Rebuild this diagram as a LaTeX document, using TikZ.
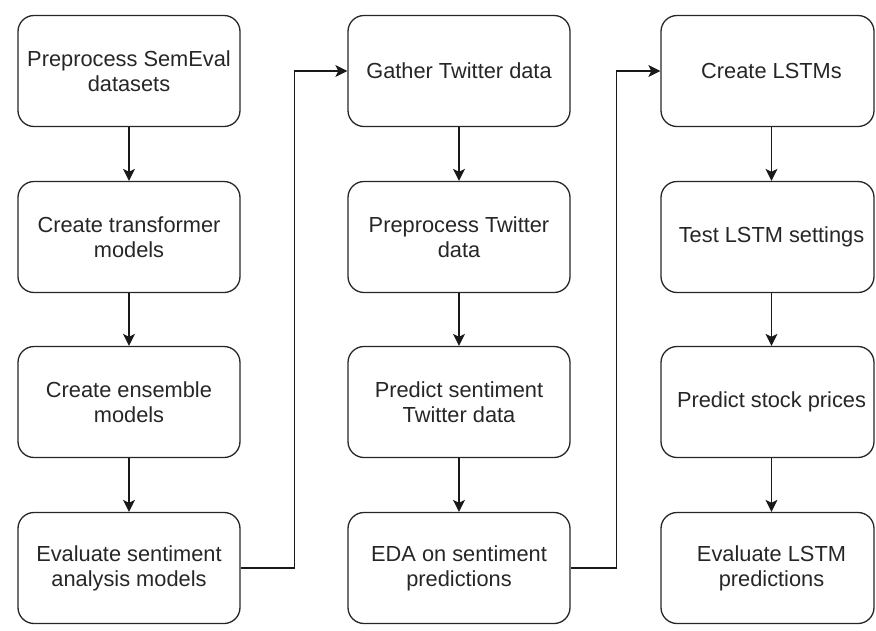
\documentclass[tikz,border=0pt]{standalone}
\usepackage{fontspec}
\setmainfont{Liberation Sans}
\usetikzlibrary{arrows.meta}
\begin{document}
\begin{tikzpicture}[x=1pt,y=-1pt,
  box/.style={draw=black!85, line width=1.3pt, rounded corners=16pt, minimum width=222pt, minimum height=111pt, inner sep=0pt, align=center, text=black!85, font=\fontsize{21.8}{25}\selectfont},
  narrowbox/.style={box, minimum width=213pt},
  lbl/.style={inner sep=0pt, align=center, text=black!85, font=\fontsize{21.8}{25}\selectfont},
  arr/.style={draw=black!90, line width=1.3pt, -{Stealth[length=12pt,width=12pt,inset=3pt]}}]
\useasboundingbox (0,0) rectangle (876,630);
% column 1
\node[box] (a1) at (129,71) {Preprocess SemEval\\datasets};
\node[box] (a2) at (129,237) {Create transformer\\models};
\node[box] (a3) at (129,402) {Create ensemble\\models};
\node[box] (a4) at (129,568) {Evaluate sentiment\\analysis models};
% column 2
\node[box] (b1) at (459,71) {Gather Twitter data};
\node[box] (b2) at (459,237) {Preprocess Twitter\\data};
\node[box] (b3) at (459,402) {Predict sentiment\\Twitter data};
\node[box] (b4) at (459,568) {EDA on sentiment\\predictions};
% column 3
\node[narrowbox] (c1) at (767.5,71) {};
\node[narrowbox] (c2) at (767.5,237) {};
\node[narrowbox] (c3) at (767.5,402) {};
\node[narrowbox] (c4) at (767.5,568) {};
\node[lbl] (t1) at ([xshift=4pt]c1.center) {Create LSTMs};
\node[lbl] (t2) at ([xshift=4pt]c2.center) {Test LSTM settings};
\node[lbl] (t3) at ([xshift=4pt]c3.center) {Predict stock prices};
\node[lbl] (t4) at ([xshift=4pt]c4.center) {Evaluate LSTM\\predictions};
% vertical connectors
\draw[arr] (a1) -- (a2);
\draw[arr] (a2) -- (a3);
\draw[arr] (a3) -- (a4);
\draw[arr] (b1) -- (b2);
\draw[arr] (b2) -- (b3);
\draw[arr] (b3) -- (b4);
\draw[arr] ([xshift=4pt]c1.south) -- ([xshift=4pt]c2.north);
\draw[arr] ([xshift=4pt]c2.south) -- ([xshift=4pt]c3.north);
\draw[arr] ([xshift=4pt]c3.south) -- ([xshift=4pt]c4.north);
% elbow connectors
\draw[arr] (a4.east) -- ++(54,0) |- (b1.west);
\draw[arr] (b4.east) -- ++(46,0) |- (c1.west);
\end{tikzpicture}
\end{document}
